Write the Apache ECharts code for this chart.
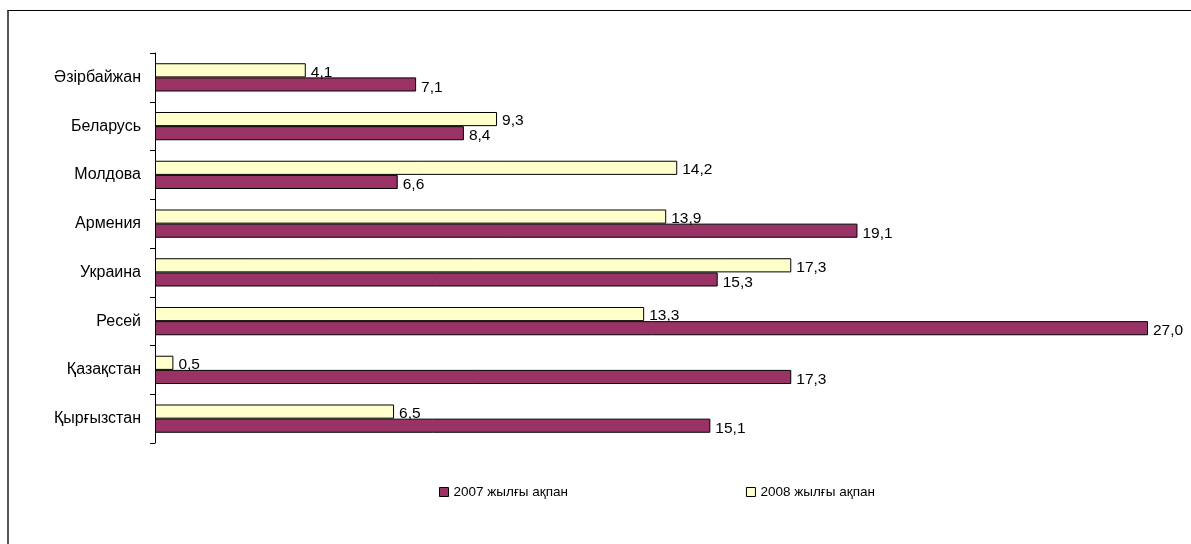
<!DOCTYPE html>
<html>
<head>
<meta charset="utf-8">
<script src="https://cdn.jsdelivr.net/npm/echarts@6/dist/echarts.min.js"></script>
<style>
  html, body { margin: 0; padding: 0; background: #fff; }
  #frame {
    position: absolute; left: 7px; top: 10px; width: 1184px; height: 534px;
    border-top: 1px solid #000; border-left: 2px solid #555;
  }
  #chart { position: absolute; left: 0; top: 0; width: 1191px; height: 544px; }
</style>
</head>
<body>
<div id="frame"></div>
<div id="chart"></div>
<script>
// Categories listed bottom to top (ECharts category y axis starts at the bottom)
const countries = ['Қырғызстан', 'Қазақстан', 'Ресей', 'Украина', 'Армения', 'Молдова', 'Беларусь', 'Әзірбайжан'];
const values2007 = [15.1, 17.3, 27.0, 15.3, 19.1, 6.6, 8.4, 7.1];
const values2008 = [6.5, 0.5, 13.3, 17.3, 13.9, 14.2, 9.3, 4.1];
const seriesNames = ['2007 жылғы ақпан', '2008 жылғы ақпан'];

// Decimal comma like the source
const fmt = (p) => p.value.toFixed(1).replace('.', ',');

const font = 'Liberation Sans, Arial, sans-serif';

const labelStyle = (dy) => ({
  show: true, position: 'right', distance: 5, offset: [0, dy],
  color: '#000', fontSize: 15.5, formatter: fmt,
});

const chart = echarts.init(document.getElementById('chart'));
chart.setOption({
  animation: false,
  textStyle: { fontFamily: font },
  grid: { left: 155, right: 43, top: 53, bottom: 101, containLabel: false },
  legend: {
    left: 434,
    top: 480,
    icon: 'rect',
    itemWidth: 9,
    itemHeight: 9,
    itemGap: 178,
    data: seriesNames,
    itemStyle: { borderColor: '#000', borderWidth: 1 },
    textStyle: { fontSize: 13.5, color: '#000', fontFamily: font },
  },
  xAxis: {
    type: 'value',
    min: 0,
    max: 27,
    show: false,
  },
  yAxis: {
    type: 'category',
    data: countries,
    axisLine: { lineStyle: { color: '#000', width: 1 } },
    axisTick: { show: true, length: 5, lineStyle: { color: '#000' } },
    axisLabel: { color: '#000', fontSize: 16, margin: 14, fontFamily: font },
  },
  // 2008 listed first so it sits above the 2007 bar in each band
  series: [
    {
      name: seriesNames[1],
      type: 'bar',
      data: values2008,
      barGap: '0%',
      barCategoryGap: '42%',
      itemStyle: { color: '#ffffcc', borderColor: '#000', borderWidth: 1 },
      label: labelStyle(2),
    },
    {
      name: seriesNames[0],
      type: 'bar',
      data: values2007,
      barGap: '0%',
      barCategoryGap: '42%',
      itemStyle: { color: '#993366', borderColor: '#000', borderWidth: 1 },
      label: labelStyle(3),
    },
  ],
});
</script>
</body>
</html>
